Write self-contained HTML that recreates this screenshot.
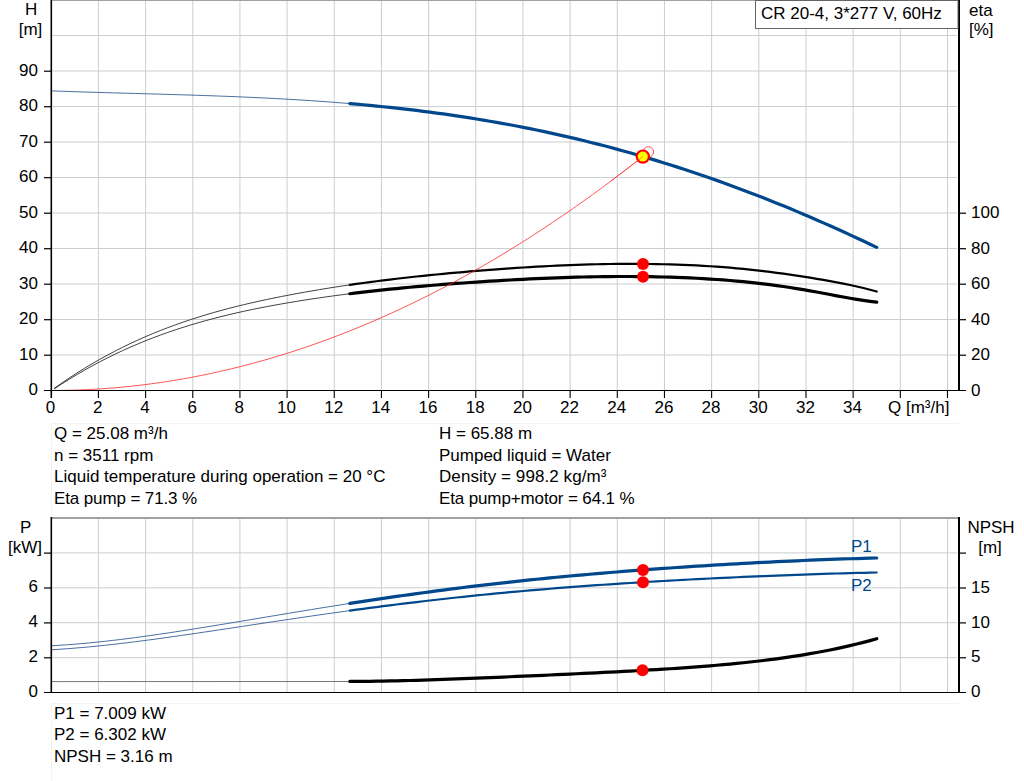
<!DOCTYPE html><html><head><meta charset="utf-8"><style>html,body{margin:0;padding:0;background:#fff;overflow:hidden}svg{display:block}text{font-family:"Liberation Sans",sans-serif;font-size:17px;fill:#000}</style></head><body>
<svg width="1024" height="781" viewBox="0 0 1024 781">
<rect x="0" y="0" width="1024" height="781" fill="#fff"/>
<rect x="51" y="423" width="908" height="1" fill="#f3f3f3"/>
<rect x="51" y="423" width="1" height="92" fill="#f3f3f3"/>
<rect x="51" y="703" width="908" height="1" fill="#f3f3f3"/>
<rect x="51" y="703" width="1" height="78" fill="#f3f3f3"/>
<rect x="97.92" y="1" width="1.0" height="389" fill="#cbced2"/>
<rect x="145.09" y="1" width="1.0" height="389" fill="#cbced2"/>
<rect x="192.26" y="1" width="1.0" height="389" fill="#cbced2"/>
<rect x="239.43" y="1" width="1.0" height="389" fill="#cbced2"/>
<rect x="286.60" y="1" width="1.0" height="389" fill="#cbced2"/>
<rect x="333.77" y="1" width="1.0" height="389" fill="#cbced2"/>
<rect x="380.94" y="1" width="1.0" height="389" fill="#cbced2"/>
<rect x="428.11" y="1" width="1.0" height="389" fill="#cbced2"/>
<rect x="475.28" y="1" width="1.0" height="389" fill="#cbced2"/>
<rect x="522.45" y="1" width="1.0" height="389" fill="#cbced2"/>
<rect x="569.62" y="1" width="1.0" height="389" fill="#cbced2"/>
<rect x="616.79" y="1" width="1.0" height="389" fill="#cbced2"/>
<rect x="663.96" y="1" width="1.0" height="389" fill="#cbced2"/>
<rect x="711.13" y="1" width="1.0" height="389" fill="#cbced2"/>
<rect x="758.30" y="1" width="1.0" height="389" fill="#cbced2"/>
<rect x="805.47" y="1" width="1.0" height="389" fill="#cbced2"/>
<rect x="852.64" y="1" width="1.0" height="389" fill="#cbced2"/>
<rect x="899.81" y="1" width="1.0" height="389" fill="#cbced2"/>
<rect x="946.98" y="1" width="1.0" height="389" fill="#cbced2"/>
<rect x="52.2" y="354.50" width="904.8" height="1.0" fill="#cbced2"/>
<rect x="52.2" y="319.00" width="904.8" height="1.0" fill="#cbced2"/>
<rect x="52.2" y="283.50" width="904.8" height="1.0" fill="#cbced2"/>
<rect x="52.2" y="248.00" width="904.8" height="1.0" fill="#cbced2"/>
<rect x="52.2" y="212.50" width="904.8" height="1.0" fill="#cbced2"/>
<rect x="52.2" y="177.00" width="904.8" height="1.0" fill="#cbced2"/>
<rect x="52.2" y="141.50" width="904.8" height="1.0" fill="#cbced2"/>
<rect x="52.2" y="106.00" width="904.8" height="1.0" fill="#cbced2"/>
<rect x="52.2" y="70.50" width="904.8" height="1.0" fill="#cbced2"/>
<rect x="52.2" y="35.00" width="904.8" height="1.0" fill="#cbced2"/>
<rect x="51" y="0" width="907" height="1" fill="#a0a1a4"/>
<path d="M51.25,90.85 L58.91,91.14 L66.56,91.41 L74.22,91.67 L81.87,91.92 L89.53,92.16 L97.19,92.39 L104.84,92.61 L112.50,92.84 L120.15,93.05 L127.81,93.27 L135.47,93.48 L143.12,93.69 L150.78,93.91 L158.43,94.12 L166.09,94.34 L173.75,94.57 L181.40,94.80 L189.06,95.04 L196.72,95.28 L204.37,95.54 L212.03,95.80 L219.68,96.08 L227.34,96.37 L235.00,96.67 L242.65,96.99 L250.31,97.33 L257.96,97.68 L265.62,98.05 L273.28,98.44 L280.93,98.85 L288.59,99.28 L296.24,99.73 L303.90,100.21 L311.56,100.71 L319.21,101.23 L326.87,101.78 L334.52,102.36 L342.18,102.97 L349.84,103.60" fill="none" stroke="#2a5590" stroke-width="1" stroke-opacity="0.85"/>
<path d="M349.84,103.60 L356.51,104.18 L363.18,104.78 L369.84,105.40 L376.51,106.05 L383.18,106.72 L389.85,107.41 L396.52,108.14 L403.19,108.88 L409.86,109.66 L416.53,110.46 L423.20,111.29 L429.87,112.15 L436.54,113.04 L443.21,113.95 L449.88,114.90 L456.55,115.87 L463.22,116.88 L469.89,117.91 L476.56,118.98 L483.23,120.08 L489.90,121.21 L496.56,122.37 L503.23,123.56 L509.90,124.79 L516.57,126.05 L523.24,127.34 L529.91,128.67 L536.58,130.03 L543.25,131.43 L549.92,132.86 L556.59,134.32 L563.26,135.82 L569.93,137.36 L576.60,138.93 L583.27,140.54 L589.94,142.18 L596.61,143.86 L603.28,145.57 L609.95,147.32 L616.62,149.11 L623.28,150.94 L629.95,152.80 L636.62,154.70 L643.29,156.63 L649.96,158.61 L656.63,160.62 L663.30,162.66 L669.97,164.75 L676.64,166.87 L683.31,169.03 L689.98,171.22 L696.65,173.46 L703.32,175.73 L709.99,178.04 L716.66,180.38 L723.33,182.76 L730.00,185.18 L736.67,187.64 L743.34,190.13 L750.00,192.66 L756.67,195.23 L763.34,197.83 L770.01,200.47 L776.68,203.14 L783.35,205.85 L790.02,208.60 L796.69,211.38 L803.36,214.19 L810.03,217.04 L816.70,219.93 L823.37,222.85 L830.04,225.80 L836.71,228.78 L843.38,231.80 L850.05,234.86 L856.72,237.94 L863.39,241.06 L870.06,244.21 L876.73,247.38" fill="none" stroke="#00478c" stroke-width="3.2" stroke-linecap="round" stroke-linejoin="round"/>
<path d="M54.08,388.52 L61.66,383.17 L69.25,378.03 L76.83,373.09 L84.41,368.35 L92.00,363.80 L99.58,359.44 L107.16,355.26 L114.75,351.25 L122.33,347.41 L129.92,343.74 L137.50,340.22 L145.08,336.86 L152.67,333.65 L160.25,330.58 L167.83,327.65 L175.42,324.85 L183.00,322.18 L190.58,319.62 L198.17,317.19 L205.75,314.86 L213.33,312.64 L220.92,310.52 L228.50,308.49 L236.08,306.55 L243.67,304.70 L251.25,302.92 L258.83,301.22 L266.42,299.58 L274.00,298.01 L281.58,296.49 L289.17,295.02 L296.75,293.60 L304.34,292.23 L311.92,290.90 L319.50,289.61 L327.09,288.37 L334.67,287.17 L342.25,286.01 L349.84,284.88" fill="none" stroke="#202020" stroke-width="1" stroke-opacity="0.85"/>
<path d="M349.84,284.88 L356.51,283.93 L363.18,283.00 L369.84,282.10 L376.51,281.23 L383.18,280.38 L389.85,279.56 L396.52,278.77 L403.19,278.00 L409.86,277.25 L416.53,276.53 L423.20,275.83 L429.87,275.15 L436.54,274.48 L443.21,273.84 L449.88,273.22 L456.55,272.62 L463.22,272.03 L469.89,271.46 L476.56,270.91 L483.23,270.37 L489.90,269.85 L496.56,269.35 L503.23,268.86 L509.90,268.39 L516.57,267.94 L523.24,267.51 L529.91,267.10 L536.58,266.71 L543.25,266.35 L549.92,266.00 L556.59,265.68 L563.26,265.38 L569.93,265.11 L576.60,264.86 L583.27,264.64 L589.94,264.44 L596.61,264.27 L603.28,264.13 L609.95,264.02 L616.62,263.94 L623.28,263.88 L629.95,263.86 L636.62,263.87 L643.29,263.91 L649.96,263.98 L656.63,264.09 L663.30,264.23 L669.97,264.40 L676.64,264.61 L683.31,264.86 L689.98,265.14 L696.65,265.47 L703.32,265.83 L709.99,266.24 L716.66,266.68 L723.33,267.17 L730.00,267.71 L736.67,268.29 L743.34,268.92 L750.00,269.60 L756.67,270.32 L763.34,271.10 L770.01,271.93 L776.68,272.80 L783.35,273.71 L790.02,274.66 L796.69,275.65 L803.36,276.67 L810.03,277.71 L816.70,278.79 L823.37,279.91 L830.04,281.08 L836.71,282.32 L843.38,283.62 L850.05,285.01 L856.72,286.48 L863.39,288.05 L870.06,289.74 L876.73,291.54" fill="none" stroke="#000" stroke-width="2.2" stroke-linecap="round" stroke-linejoin="round"/>
<path d="M54.08,388.95 L61.66,383.98 L69.25,379.20 L76.83,374.61 L84.41,370.20 L92.00,365.97 L99.58,361.92 L107.16,358.03 L114.75,354.31 L122.33,350.74 L129.92,347.33 L137.50,344.07 L145.08,340.95 L152.67,337.98 L160.25,335.13 L167.83,332.42 L175.42,329.83 L183.00,327.36 L190.58,325.00 L198.17,322.76 L205.75,320.62 L213.33,318.58 L220.92,316.63 L228.50,314.78 L236.08,313.01 L243.67,311.32 L251.25,309.71 L258.83,308.16 L266.42,306.69 L274.00,305.27 L281.58,303.91 L289.17,302.60 L296.75,301.34 L304.34,300.12 L311.92,298.95 L319.50,297.83 L327.09,296.74 L334.67,295.70 L342.25,294.69 L349.84,293.72" fill="none" stroke="#202020" stroke-width="1" stroke-opacity="0.85"/>
<path d="M349.84,293.72 L356.51,292.90 L363.18,292.11 L369.84,291.35 L376.51,290.61 L383.18,289.89 L389.85,289.20 L396.52,288.54 L403.19,287.90 L409.86,287.27 L416.53,286.67 L423.20,286.09 L429.87,285.53 L436.54,284.99 L443.21,284.46 L449.88,283.95 L456.55,283.46 L463.22,282.98 L469.89,282.52 L476.56,282.06 L483.23,281.63 L489.90,281.20 L496.56,280.79 L503.23,280.39 L509.90,280.01 L516.57,279.64 L523.24,279.29 L529.91,278.96 L536.58,278.65 L543.25,278.35 L549.92,278.07 L556.59,277.82 L563.26,277.58 L569.93,277.37 L576.60,277.17 L583.27,277.00 L589.94,276.86 L596.61,276.73 L603.28,276.64 L609.95,276.56 L616.62,276.52 L623.28,276.50 L629.95,276.51 L636.62,276.54 L643.29,276.61 L649.96,276.70 L656.63,276.83 L663.30,276.98 L669.97,277.17 L676.64,277.39 L683.31,277.64 L689.98,277.93 L696.65,278.26 L703.32,278.63 L709.99,279.03 L716.66,279.48 L723.33,279.97 L730.00,280.50 L736.67,281.08 L743.34,281.70 L750.00,282.38 L756.67,283.10 L763.34,283.87 L770.01,284.70 L776.68,285.58 L783.35,286.51 L790.02,287.50 L796.69,288.55 L803.36,289.66 L810.03,290.83 L816.70,292.04 L823.37,293.29 L830.04,294.55 L836.71,295.81 L843.38,297.04 L850.05,298.23 L856.72,299.36 L863.39,300.41 L870.06,301.36 L876.73,302.19" fill="none" stroke="#000" stroke-width="3.2" stroke-linecap="round" stroke-linejoin="round"/>
<path d="M51.25,390.50 L61.28,390.43 L71.30,390.23 L81.33,389.90 L91.35,389.42 L101.38,388.82 L111.40,388.08 L121.43,387.21 L131.45,386.20 L141.48,385.06 L151.51,383.78 L161.53,382.37 L171.56,380.82 L181.58,379.14 L191.61,377.33 L201.63,375.38 L211.66,373.30 L221.69,371.08 L231.71,368.73 L241.74,366.24 L251.76,363.62 L261.79,360.87 L271.81,357.98 L281.84,354.95 L291.86,351.80 L301.89,348.50 L311.92,345.08 L321.94,341.52 L331.97,337.82 L341.99,333.99 L352.02,330.02 L362.04,325.93 L372.07,321.69 L382.10,317.33 L392.12,312.82 L402.15,308.19 L412.17,303.42 L422.20,298.51 L432.22,293.47 L442.25,288.30 L452.27,282.99 L462.30,277.55 L472.33,271.97 L482.35,266.26 L492.38,260.41 L502.40,254.43 L512.43,248.32 L522.45,242.07 L532.48,235.68 L542.51,229.17 L552.53,222.51 L562.56,215.73 L572.58,208.81 L582.61,201.75 L592.63,194.56 L602.66,187.24 L612.68,179.78 L622.71,172.19 L632.74,164.46 L642.76,156.60" fill="none" stroke="#ff2a2a" stroke-width="1" stroke-opacity="0.8"/>
<circle cx="648.4" cy="151.9" r="5.2" fill="none" stroke="#ff2a2a" stroke-width="1" stroke-opacity="0.8"/>
<circle cx="642.8" cy="156.6" r="6.1" fill="#ffff00" stroke="#ff0000" stroke-width="2.2"/>
<path d="M610.21,181.63 L642.8,156.6" stroke="#ff2a2a" stroke-width="1" stroke-opacity="0.55"/>
<circle cx="643" cy="264.1" r="6" fill="#ff0000"/>
<circle cx="643" cy="276.8" r="6" fill="#ff0000"/>
<rect x="50.50" y="0" width="1.6" height="398" fill="#000"/>
<rect x="44" y="390" width="922" height="1" fill="#000"/>
<rect x="958" y="0" width="2" height="391" fill="#000"/>
<rect x="44" y="354.60" width="7" height="1.2" fill="#000"/>
<rect x="44" y="319.10" width="7" height="1.2" fill="#000"/>
<rect x="44" y="283.60" width="7" height="1.2" fill="#000"/>
<rect x="44" y="248.10" width="7" height="1.2" fill="#000"/>
<rect x="44" y="212.60" width="7" height="1.2" fill="#000"/>
<rect x="44" y="177.10" width="7" height="1.2" fill="#000"/>
<rect x="44" y="141.60" width="7" height="1.2" fill="#000"/>
<rect x="44" y="106.10" width="7" height="1.2" fill="#000"/>
<rect x="44" y="70.60" width="7" height="1.2" fill="#000"/>
<rect x="960" y="354.60" width="6" height="1.2" fill="#000"/>
<rect x="960" y="319.10" width="6" height="1.2" fill="#000"/>
<rect x="960" y="283.60" width="6" height="1.2" fill="#000"/>
<rect x="960" y="248.10" width="6" height="1.2" fill="#000"/>
<rect x="960" y="212.60" width="6" height="1.2" fill="#000"/>
<rect x="97.87" y="391" width="1.1" height="7" fill="#000"/>
<rect x="145.04" y="391" width="1.1" height="7" fill="#000"/>
<rect x="192.21" y="391" width="1.1" height="7" fill="#000"/>
<rect x="239.38" y="391" width="1.1" height="7" fill="#000"/>
<rect x="286.55" y="391" width="1.1" height="7" fill="#000"/>
<rect x="333.72" y="391" width="1.1" height="7" fill="#000"/>
<rect x="380.89" y="391" width="1.1" height="7" fill="#000"/>
<rect x="428.06" y="391" width="1.1" height="7" fill="#000"/>
<rect x="475.23" y="391" width="1.1" height="7" fill="#000"/>
<rect x="522.40" y="391" width="1.1" height="7" fill="#000"/>
<rect x="569.57" y="391" width="1.1" height="7" fill="#000"/>
<rect x="616.74" y="391" width="1.1" height="7" fill="#000"/>
<rect x="663.91" y="391" width="1.1" height="7" fill="#000"/>
<rect x="711.08" y="391" width="1.1" height="7" fill="#000"/>
<rect x="758.25" y="391" width="1.1" height="7" fill="#000"/>
<rect x="805.42" y="391" width="1.1" height="7" fill="#000"/>
<rect x="852.59" y="391" width="1.1" height="7" fill="#000"/>
<rect x="899.76" y="391" width="1.1" height="7" fill="#000"/>
<rect x="946.93" y="391" width="1.1" height="7" fill="#000"/>
<rect x="755.5" y="0.5" width="202.5" height="28" fill="#fff" stroke="#646464" stroke-width="1"/>
<text x="761" y="19">CR 20-4, 3*277 V, 60Hz</text>
<text x="31.2" y="15" text-anchor="middle">H</text>
<text x="30.5" y="35" text-anchor="middle">[m]</text>
<text x="969" y="16">eta</text>
<text x="969" y="35">[%]</text>
<text x="38" y="395.1" text-anchor="end">0</text>
<text x="38" y="359.6" text-anchor="end">10</text>
<text x="38" y="324.1" text-anchor="end">20</text>
<text x="38" y="288.6" text-anchor="end">30</text>
<text x="38" y="253.1" text-anchor="end">40</text>
<text x="38" y="217.6" text-anchor="end">50</text>
<text x="38" y="182.1" text-anchor="end">60</text>
<text x="38" y="146.6" text-anchor="end">70</text>
<text x="38" y="111.1" text-anchor="end">80</text>
<text x="38" y="75.6" text-anchor="end">90</text>
<text x="971" y="395.5">0</text>
<text x="971" y="360.0">20</text>
<text x="971" y="324.5">40</text>
<text x="971" y="289.0">60</text>
<text x="971" y="253.5">80</text>
<text x="971" y="218.0">100</text>
<text x="50.6" y="413" text-anchor="middle">0</text>
<text x="97.8" y="413" text-anchor="middle">2</text>
<text x="145.0" y="413" text-anchor="middle">4</text>
<text x="192.2" y="413" text-anchor="middle">6</text>
<text x="239.3" y="413" text-anchor="middle">8</text>
<text x="286.5" y="413" text-anchor="middle">10</text>
<text x="333.7" y="413" text-anchor="middle">12</text>
<text x="380.8" y="413" text-anchor="middle">14</text>
<text x="428.0" y="413" text-anchor="middle">16</text>
<text x="475.2" y="413" text-anchor="middle">18</text>
<text x="522.4" y="413" text-anchor="middle">20</text>
<text x="569.5" y="413" text-anchor="middle">22</text>
<text x="616.7" y="413" text-anchor="middle">24</text>
<text x="663.9" y="413" text-anchor="middle">26</text>
<text x="711.0" y="413" text-anchor="middle">28</text>
<text x="758.2" y="413" text-anchor="middle">30</text>
<text x="805.4" y="413" text-anchor="middle">32</text>
<text x="852.5" y="413" text-anchor="middle">34</text>
<rect x="884" y="398" width="70" height="22" fill="#fff"/>
<text x="888" y="413">Q [m³/h]</text>
<text x="54" y="439">Q = 25.08 m³/h</text>
<text x="54" y="460.5">n = 3511 rpm</text>
<text x="54" y="482">Liquid temperature during operation = 20 °C</text>
<text x="54" y="503.5" letter-spacing="-0.12">Eta pump = 71.3 %</text>
<text x="439" y="439">H = 65.88 m</text>
<text x="439" y="460.5">Pumped liquid = Water</text>
<text x="439" y="482" letter-spacing="0.08">Density = 998.2 kg/m³</text>
<text x="439" y="503.5" letter-spacing="-0.13">Eta pump+motor = 64.1 %</text>
<rect x="97.92" y="519" width="1.0" height="173" fill="#cbced2"/>
<rect x="145.09" y="519" width="1.0" height="173" fill="#cbced2"/>
<rect x="192.26" y="519" width="1.0" height="173" fill="#cbced2"/>
<rect x="239.43" y="519" width="1.0" height="173" fill="#cbced2"/>
<rect x="286.60" y="519" width="1.0" height="173" fill="#cbced2"/>
<rect x="333.77" y="519" width="1.0" height="173" fill="#cbced2"/>
<rect x="380.94" y="519" width="1.0" height="173" fill="#cbced2"/>
<rect x="428.11" y="519" width="1.0" height="173" fill="#cbced2"/>
<rect x="475.28" y="519" width="1.0" height="173" fill="#cbced2"/>
<rect x="522.45" y="519" width="1.0" height="173" fill="#cbced2"/>
<rect x="569.62" y="519" width="1.0" height="173" fill="#cbced2"/>
<rect x="616.79" y="519" width="1.0" height="173" fill="#cbced2"/>
<rect x="663.96" y="519" width="1.0" height="173" fill="#cbced2"/>
<rect x="711.13" y="519" width="1.0" height="173" fill="#cbced2"/>
<rect x="758.30" y="519" width="1.0" height="173" fill="#cbced2"/>
<rect x="805.47" y="519" width="1.0" height="173" fill="#cbced2"/>
<rect x="852.64" y="519" width="1.0" height="173" fill="#cbced2"/>
<rect x="899.81" y="519" width="1.0" height="173" fill="#cbced2"/>
<rect x="946.98" y="519" width="1.0" height="173" fill="#cbced2"/>
<rect x="52.2" y="657.10" width="904.8" height="1.0" fill="#cbced2"/>
<rect x="52.2" y="622.20" width="904.8" height="1.0" fill="#cbced2"/>
<rect x="52.2" y="587.30" width="904.8" height="1.0" fill="#cbced2"/>
<rect x="52.2" y="552.40" width="904.8" height="1.0" fill="#cbced2"/>
<rect x="51" y="517" width="907" height="2" fill="#a0a1a4"/>
<path d="M51.25,645.76 L58.91,645.33 L66.56,644.82 L74.22,644.24 L81.87,643.60 L89.53,642.90 L97.19,642.13 L104.84,641.32 L112.50,640.45 L120.15,639.54 L127.81,638.58 L135.47,637.58 L143.12,636.55 L150.78,635.48 L158.43,634.38 L166.09,633.25 L173.75,632.10 L181.40,630.92 L189.06,629.72 L196.72,628.51 L204.37,627.28 L212.03,626.04 L219.68,624.78 L227.34,623.52 L235.00,622.25 L242.65,620.98 L250.31,619.70 L257.96,618.42 L265.62,617.14 L273.28,615.86 L280.93,614.58 L288.59,613.31 L296.24,612.05 L303.90,610.79 L311.56,609.54 L319.21,608.29 L326.87,607.06 L334.52,605.84 L342.18,604.63 L349.84,603.43" fill="none" stroke="#2a5590" stroke-width="1" stroke-opacity="0.85"/>
<path d="M349.84,603.43 L356.51,602.40 L363.18,601.38 L369.84,600.37 L376.51,599.37 L383.18,598.38 L389.85,597.41 L396.52,596.44 L403.19,595.49 L409.86,594.55 L416.53,593.63 L423.20,592.72 L429.87,591.82 L436.54,590.93 L443.21,590.06 L449.88,589.20 L456.55,588.35 L463.22,587.52 L469.89,586.70 L476.56,585.90 L483.23,585.11 L489.90,584.33 L496.56,583.57 L503.23,582.82 L509.90,582.08 L516.57,581.35 L523.24,580.64 L529.91,579.94 L536.58,579.26 L543.25,578.59 L549.92,577.93 L556.59,577.28 L563.26,576.64 L569.93,576.02 L576.60,575.41 L583.27,574.81 L589.94,574.22 L596.61,573.64 L603.28,573.08 L609.95,572.52 L616.62,571.98 L623.28,571.44 L629.95,570.92 L636.62,570.40 L643.29,569.90 L649.96,569.41 L656.63,568.92 L663.30,568.45 L669.97,567.98 L676.64,567.52 L683.31,567.08 L689.98,566.64 L696.65,566.21 L703.32,565.79 L709.99,565.37 L716.66,564.97 L723.33,564.57 L730.00,564.19 L736.67,563.81 L743.34,563.44 L750.00,563.08 L756.67,562.72 L763.34,562.38 L770.01,562.04 L776.68,561.71 L783.35,561.39 L790.02,561.08 L796.69,560.78 L803.36,560.49 L810.03,560.21 L816.70,559.94 L823.37,559.68 L830.04,559.43 L836.71,559.19 L843.38,558.96 L850.05,558.74 L856.72,558.53 L863.39,558.34 L870.06,558.16 L876.73,558.00" fill="none" stroke="#00478c" stroke-width="3.2" stroke-linecap="round" stroke-linejoin="round"/>
<path d="M51.25,649.78 L58.91,649.32 L66.56,648.78 L74.22,648.19 L81.87,647.54 L89.53,646.84 L97.19,646.09 L104.84,645.29 L112.50,644.45 L120.15,643.57 L127.81,642.65 L135.47,641.70 L143.12,640.72 L150.78,639.71 L158.43,638.68 L166.09,637.62 L173.75,636.55 L181.40,635.45 L189.06,634.35 L196.72,633.22 L204.37,632.09 L212.03,630.95 L219.68,629.80 L227.34,628.64 L235.00,627.49 L242.65,626.33 L250.31,625.17 L257.96,624.01 L265.62,622.85 L273.28,621.70 L280.93,620.55 L288.59,619.41 L296.24,618.27 L303.90,617.15 L311.56,616.03 L319.21,614.92 L326.87,613.83 L334.52,612.75 L342.18,611.67 L349.84,610.62" fill="none" stroke="#2a5590" stroke-width="1" stroke-opacity="0.85"/>
<path d="M349.84,610.62 L356.51,609.71 L363.18,608.81 L369.84,607.92 L376.51,607.05 L383.18,606.18 L389.85,605.33 L396.52,604.49 L403.19,603.67 L409.86,602.85 L416.53,602.05 L423.20,601.26 L429.87,600.49 L436.54,599.72 L443.21,598.97 L449.88,598.24 L456.55,597.51 L463.22,596.80 L469.89,596.11 L476.56,595.42 L483.23,594.75 L489.90,594.09 L496.56,593.45 L503.23,592.82 L509.90,592.20 L516.57,591.59 L523.24,590.99 L529.91,590.41 L536.58,589.84 L543.25,589.28 L549.92,588.73 L556.59,588.19 L563.26,587.67 L569.93,587.15 L576.60,586.65 L583.27,586.16 L589.94,585.67 L596.61,585.20 L603.28,584.74 L609.95,584.28 L616.62,583.84 L623.28,583.40 L629.95,582.98 L636.62,582.56 L643.29,582.15 L649.96,581.75 L656.63,581.36 L663.30,580.98 L669.97,580.60 L676.64,580.23 L683.31,579.87 L689.98,579.52 L696.65,579.17 L703.32,578.83 L709.99,578.50 L716.66,578.17 L723.33,577.85 L730.00,577.54 L736.67,577.24 L743.34,576.94 L750.00,576.65 L756.67,576.36 L763.34,576.08 L770.01,575.81 L776.68,575.54 L783.35,575.28 L790.02,575.03 L796.69,574.79 L803.36,574.55 L810.03,574.32 L816.70,574.10 L823.37,573.88 L830.04,573.68 L836.71,573.48 L843.38,573.29 L850.05,573.11 L856.72,572.94 L863.39,572.78 L870.06,572.63 L876.73,572.49" fill="none" stroke="#00478c" stroke-width="2.2" stroke-linecap="round" stroke-linejoin="round"/>
<path d="M51.5,681.6 L349.84,681.5" fill="none" stroke="#555" stroke-width="1" stroke-opacity="0.8"/>
<path d="M349.84,681.38 L356.51,681.37 L363.18,681.34 L369.84,681.28 L376.51,681.20 L383.18,681.09 L389.85,680.97 L396.52,680.83 L403.19,680.67 L409.86,680.50 L416.53,680.31 L423.20,680.11 L429.87,679.90 L436.54,679.68 L443.21,679.44 L449.88,679.20 L456.55,678.95 L463.22,678.69 L469.89,678.43 L476.56,678.16 L483.23,677.89 L489.90,677.61 L496.56,677.33 L503.23,677.05 L509.90,676.76 L516.57,676.47 L523.24,676.18 L529.91,675.88 L536.58,675.58 L543.25,675.28 L549.92,674.98 L556.59,674.68 L563.26,674.37 L569.93,674.06 L576.60,673.75 L583.27,673.44 L589.94,673.12 L596.61,672.80 L603.28,672.47 L609.95,672.13 L616.62,671.79 L623.28,671.45 L629.95,671.09 L636.62,670.73 L643.29,670.36 L649.96,669.97 L656.63,669.58 L663.30,669.17 L669.97,668.75 L676.64,668.31 L683.31,667.86 L689.98,667.38 L696.65,666.89 L703.32,666.38 L709.99,665.84 L716.66,665.28 L723.33,664.69 L730.00,664.07 L736.67,663.42 L743.34,662.74 L750.00,662.03 L756.67,661.28 L763.34,660.49 L770.01,659.66 L776.68,658.79 L783.35,657.87 L790.02,656.90 L796.69,655.89 L803.36,654.82 L810.03,653.69 L816.70,652.51 L823.37,651.26 L830.04,649.95 L836.71,648.58 L843.38,647.13 L850.05,645.61 L856.72,644.02 L863.39,642.34 L870.06,640.59 L876.73,638.75" fill="none" stroke="#000" stroke-width="3.2" stroke-linecap="round" stroke-linejoin="round"/>
<rect x="50.50" y="517" width="1.6" height="176" fill="#000"/>
<rect x="44" y="692" width="922" height="1" fill="#000"/>
<rect x="958" y="517" width="2" height="176" fill="#000"/>
<rect x="44" y="657.20" width="7" height="1.2" fill="#000"/>
<rect x="960" y="657.20" width="6" height="1.2" fill="#000"/>
<rect x="44" y="622.30" width="7" height="1.2" fill="#000"/>
<rect x="960" y="622.30" width="6" height="1.2" fill="#000"/>
<rect x="44" y="587.40" width="7" height="1.2" fill="#000"/>
<rect x="960" y="587.40" width="6" height="1.2" fill="#000"/>
<rect x="44" y="552.50" width="7" height="1.2" fill="#000"/>
<rect x="960" y="552.50" width="6" height="1.2" fill="#000"/>
<circle cx="643" cy="570" r="6" fill="#ff0000"/>
<circle cx="643" cy="582.2" r="6" fill="#ff0000"/>
<circle cx="642.5" cy="670.2" r="6" fill="#ff0000"/>
<text x="851" y="552" style="fill:#00478c">P1</text>
<text x="851" y="591" style="fill:#00478c">P2</text>
<text x="25.6" y="533" text-anchor="middle">P</text>
<text x="25" y="553" text-anchor="middle">[kW]</text>
<text x="991" y="533" text-anchor="middle">NPSH</text>
<text x="990" y="553" text-anchor="middle">[m]</text>
<text x="38" y="696.8" text-anchor="end">0</text>
<text x="38" y="661.9" text-anchor="end">2</text>
<text x="38" y="627.0" text-anchor="end">4</text>
<text x="38" y="592.1" text-anchor="end">6</text>
<text x="971" y="697.3">0</text>
<text x="971" y="662.4">5</text>
<text x="971" y="627.5">10</text>
<text x="971" y="592.6">15</text>
<text x="54" y="719">P1 = 7.009 kW</text>
<text x="54" y="740">P2 = 6.302 kW</text>
<text x="54" y="762">NPSH = 3.16 m</text>
</svg></body></html>
